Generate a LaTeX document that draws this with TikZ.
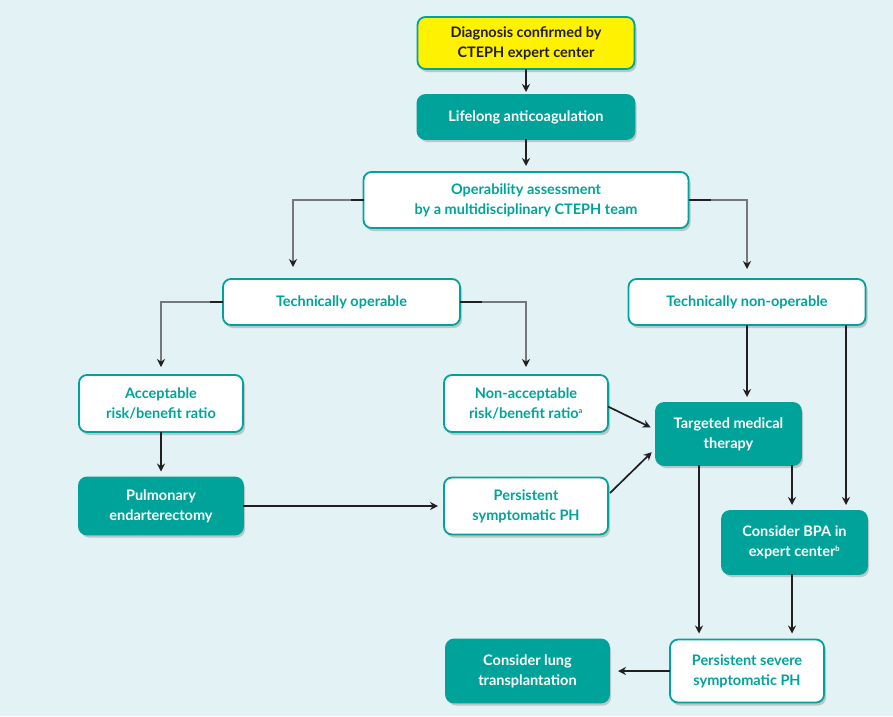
\documentclass[tikz,border=0pt]{standalone}
\usepackage{fontspec}
\setmainfont{Lato}
\usetikzlibrary{calc,shadows,arrows.meta}

\definecolor{bgblue}{HTML}{E3F2F4}
\definecolor{cteal}{HTML}{00A39A}
\definecolor{cyellow}{HTML}{FFF200}
\definecolor{ink}{HTML}{231F20}
\definecolor{elbowgray}{HTML}{77787B}

\tikzset{
  box/.style={rounded corners=8pt, draw=cteal, line width=1.8pt, align=center,
    inner sep=0pt, outer sep=0pt,
    font=\bfseries\fontsize{14.5}{20}\selectfont,
    drop shadow={shadow xshift=2pt, shadow yshift=-3pt, opacity=0.18, fill=black}},
  whitebox/.style={box, fill=white, text=cteal},
  tealbox/.style={box, fill=cteal, text=white},
  yellowbox/.style={box, fill=cyellow, text=ink},
  link/.style={ink, line width=1.7pt, shorten >=6pt, -{Stealth[length=8pt,width=8pt]}},
  elbow/.style={elbowgray, line width=1.1pt, shorten >=8pt, -{Stealth[length=8pt,width=8pt,ink]}},
  stub/.style={ink, line width=1.7pt},
}

\begin{document}
\begin{tikzpicture}[x=1pt,y=-1pt]
  \fill[bgblue] (0,0) rectangle (893,716);
  \useasboundingbox (0,0) rectangle (893,716);

  % boxes
  \node[yellowbox, minimum width=217, minimum height=52] (diag) at (526,43)
    {Diagnosis confirmed by\\CTEPH expert center};
  \node[tealbox, minimum width=217, minimum height=44] (life) at (526,117)
    {Lifelong anticoagulation};
  \node[whitebox, minimum width=325, minimum height=56] (oper) at (526,200)
    {Operability assessment\\by a multidisciplinary CTEPH team};
  \node[whitebox, minimum width=237, minimum height=46] (techop) at (341.5,302)
    {Technically operable};
  \node[whitebox, minimum width=237, minimum height=46] (technon) at (747,302)
    {Technically non-operable};
  \node[whitebox, minimum width=164, minimum height=57] (accept) at (161,403.5)
    {Acceptable\\risk/benefit ratio};
  \node[whitebox, minimum width=164, minimum height=57] (nonacc) at (526,403.5)
    {Non-acceptable\\risk/benefit ratio\textsuperscript{\fontsize{7.5}{7.5}\selectfont a}};
  \node[tealbox, minimum width=145, minimum height=62] (target) at (728.5,434)
    {Targeted medical\\therapy};
  \node[tealbox, minimum width=164, minimum height=57] (pulm) at (161,506)
    {Pulmonary\\endarterectomy};
  \node[whitebox, minimum width=164, minimum height=57] (persist) at (526,506)
    {Persistent\\symptomatic PH};
  \node[tealbox, minimum width=145, minimum height=63] (bpa) at (794.5,542.5)
    {Consider BPA in\\expert center\textsuperscript{\fontsize{7.5}{7.5}\selectfont b}};
  \node[whitebox, minimum width=154, minimum height=63] (severe) at (747,671)
    {Persistent severe\\symptomatic PH};
  \node[tealbox, minimum width=163, minimum height=63] (lung) at (527.5,671)
    {Consider lung\\transplantation};

  % straight arrows
  \draw[link, shorten >=3pt] (diag) -- (life);
  \draw[link] (life) -- (oper);
  \draw[link] (accept) -- (pulm);
  \draw[link] (pulm) -- (persist);
  \draw[link, shorten >=9pt] (severe) -- (lung);
  \draw[link] (technon.south) -- (technon.south |- target.north);
  \draw[link] ($(technon.south)+(99,0)$) coordinate (tn2) -- (tn2 |- bpa.north);
  \draw[link] ($(target.south)+(63.5,0)$) coordinate (tg2) -- (tg2 |- bpa.north);
  \draw[link] ($(target.south)+(-29.5,0)$) coordinate (tg1) -- (tg1 |- severe.north);
  \draw[link] (tg2 |- bpa.south) -- (tg2 |- severe.north);
  \draw[link] ($(nonacc.east)+(0,3)$) -- ($(target.west)+(0,-4)$);
  \draw[link] ($(persist.east)+(2,-13)$) -- ($(target.west)+(0,14)$);

  % elbow arrows
  \draw[elbow, shorten >=12pt] (oper.west) -| (293,279);
  \draw[elbow, shorten >=10pt] (oper.east) -| (747,279);
  \draw[elbow] (techop.west) -| (accept.north);
  \draw[elbow] (techop.east) -| (nonacc.north);
  \draw[stub] (oper.west) -- ++(-13,0);
  \draw[stub] (oper.east) -- ++(22,0);
  \draw[stub] (techop.west) -- ++(-13,0);
  \draw[stub] (techop.east) -- ++(22,0);
\end{tikzpicture}
\end{document}
